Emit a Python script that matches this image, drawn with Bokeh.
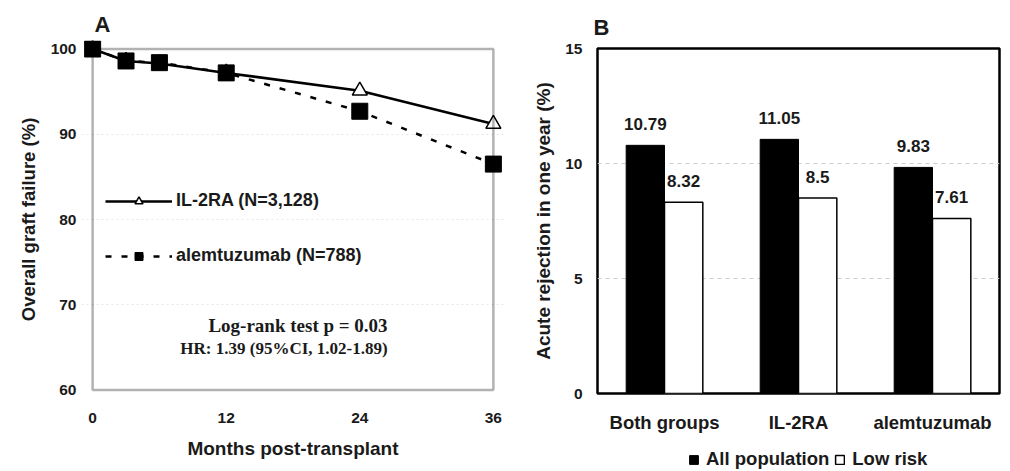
from bokeh.plotting import figure
from bokeh.layouts import row, column
from bokeh.models import (ColumnDataSource, FixedTicker, BoxAnnotation, Legend, LegendItem,
                          FactorRange, Range1d)
from bokeh.transform import dodge
from bokeh.core.properties import value
from bokeh.embed import file_html
from bokeh.resources import INLINE

# ---------------- data ----------------
months = [0, 3, 6, 12, 24, 36]
il2ra = [100, 98.6, 98.3, 97.2, 95.1, 91.2]
alemtuzumab = [100, 98.6, 98.4, 97.2, 92.7, 86.5]
series_a = ["IL-2RA (N=3,128)", "alemtuzumab (N=788)"]
stats_text = ["Log-rank test p = 0.03", "HR: 1.39 (95%CI, 1.02-1.89)"]
x_ticks_a = [0, 12, 24, 36]
y_ticks_a = [60, 70, 80, 90, 100]

groups = ["Both groups", "IL-2RA", "alemtuzumab"]
all_population = [10.79, 11.05, 9.83]
low_risk = [8.32, 8.5, 7.61]
series_b = ["All population", "Low risk"]
y_ticks_b = [0, 5, 10, 15]

FONT = "Liberation Sans"
SERIF = "Liberation Serif"
TXT = "#1a1a1a"


def style_axis(ax, tick_size, label_size):
    ax.axis_line_color = None
    ax.major_tick_line_color = None
    ax.minor_tick_line_color = None
    ax.major_tick_out = 0
    ax.major_tick_in = 0
    ax.minor_tick_out = 0
    ax.minor_tick_in = 0
    ax.major_label_text_font = FONT
    ax.major_label_text_font_style = "bold"
    ax.major_label_text_font_size = tick_size
    ax.major_label_text_color = TXT
    ax.axis_label_text_font = FONT
    ax.axis_label_text_font_style = "bold"
    ax.axis_label_text_font_size = label_size
    ax.axis_label_text_color = TXT


def style_title(p, text, offset, standoff):
    p.title.text = text
    p.title.text_font = FONT
    p.title.text_font_size = "22px"
    p.title.text_font_style = "bold"
    p.title.text_color = TXT
    p.title.align = "left"
    p.title.offset = offset
    p.title.standoff = standoff


# ---------------- panel A ----------------
pA = figure(width=520, height=470, output_backend="svg", toolbar_location=None,
            x_range=Range1d(-1, 37), y_range=Range1d(59, 101),
            min_border_left=81, min_border_right=16, min_border_top=40, min_border_bottom=72)
pA.outline_line_color = None
pA.xgrid.grid_line_color = None
pA.ygrid.grid_line_color = "#e6e6e6"
pA.ygrid.grid_line_dash = "2 3"
pA.ygrid.ticker = FixedTicker(ticks=[70, 80, 90])

box = BoxAnnotation(left=0, right=36, bottom=60, top=100, fill_alpha=0,
                    line_color="black", line_width=2.5)
pA.add_layout(box)

srcA = ColumnDataSource(dict(m=months, il=il2ra, al=alemtuzumab))
l1 = pA.line("m", "il", source=srcA, line_color="black", line_width=2.5)
s1 = pA.scatter("m", "il", source=srcA, marker="triangle", size=15, fill_color="white",
                line_color="black", line_width=1.5)
l2 = pA.line("m", "al", source=srcA, line_color="black", line_width=2.5, line_dash="6 10")
s2 = pA.scatter("m", "al", source=srcA, marker="square", size=16, fill_color="black",
                line_color="black")

legA = Legend(items=[LegendItem(label=series_a[0], renderers=[l1, s1]),
                     LegendItem(label=series_a[1], renderers=[l2, s2])],
              location=(24, 132), orientation="vertical", spacing=34,
              glyph_width=67, glyph_height=20, label_standoff=4, padding=0, margin=0,
              background_fill_alpha=0, border_line_color=None,
              label_text_font=FONT, label_text_font_style="bold",
              label_text_font_size="18px", label_text_color=TXT)
pA.add_layout(legA, "center")

statsrc = ColumnDataSource(dict(x=[26.5, 26.5], y=[67.55, 64.85], t=stats_text,
                                fs=["19px", "17px"]))
pA.text("x", "y", text="t", source=statsrc, text_font=value(SERIF), text_font_style="bold",
        text_font_size="fs", text_align="right", text_baseline="middle", text_color=TXT)

pA.xaxis.ticker = FixedTicker(ticks=x_ticks_a)
pA.yaxis.ticker = FixedTicker(ticks=y_ticks_a)
pA.xaxis.axis_label = "Months post-transplant"
pA.yaxis.axis_label = "Overall graft failure (%)"
style_axis(pA.xaxis[0], "15.5px", "19px")
style_axis(pA.yaxis[0], "15.5px", "18.5px")
pA.xaxis.major_label_standoff = 14
pA.yaxis.major_label_standoff = 5
pA.xaxis.axis_label_standoff = 12
pA.yaxis.axis_label_standoff = 9
style_title(pA, "A", 13, 8)

# ---------------- panel B ----------------
pB = figure(width=482, height=440, output_backend="svg", toolbar_location=None,
            x_range=FactorRange(*groups, range_padding=0), y_range=Range1d(0, 15),
            min_border_left=77, min_border_right=3, min_border_top=48, min_border_bottom=47)
pB.outline_line_color = "black"
pB.outline_line_width = 2.5
pB.xgrid.grid_line_color = None
pB.ygrid.grid_line_color = "#cccccc"
pB.ygrid.grid_line_dash = "4 4"
pB.ygrid.ticker = FixedTicker(ticks=[5, 10])

srcB = ColumnDataSource(dict(g=groups, a=all_population, r=low_risk,
                             at=[str(v) for v in all_population],
                             rt=[str(v) for v in low_risk]))
bar_all = dict(fill_color="black", line_color="black")
bar_low = dict(fill_color="white", line_color="black", line_width=1.5)
pB.vbar(x=dodge("g", -0.143, range=pB.x_range), top="a", width=0.286, source=srcB, **bar_all)
pB.vbar(x=dodge("g", 0.143, range=pB.x_range), top="r", width=0.286, source=srcB, **bar_low)
pB.text(x=dodge("g", -0.143, range=pB.x_range), y="a", text="at", source=srcB,
        text_font=value(FONT), text_font_style="bold", text_font_size="17px",
        text_align="center", text_baseline="middle", y_offset=-21, text_color=TXT)
pB.text(x=dodge("g", 0.143, range=pB.x_range), y="r", text="rt", source=srcB,
        text_font=value(FONT), text_font_style="bold", text_font_size="17px",
        text_align="center", text_baseline="middle", y_offset=-21, text_color=TXT)

pB.yaxis.ticker = FixedTicker(ticks=y_ticks_b)
pB.yaxis.axis_label = "Acute rejection in one year (%)"
style_axis(pB.xaxis[0], "18.5px", "19px")
style_axis(pB.yaxis[0], "15.5px", "19px")
pB.xaxis.major_label_standoff = 18
pB.yaxis.major_label_standoff = 15
pB.yaxis.axis_label_standoff = 8
style_title(pB, "B", -4, 17)

# legend strip under panel B (hidden copies of the bars serve as legend proxies)
pL = figure(width=482, height=30, output_backend="svg", toolbar_location=None,
            x_range=FactorRange(*groups, range_padding=0), y_range=Range1d(-200, -199),
            x_axis_location=None, y_axis_location=None,
            min_border_left=0, min_border_right=0, min_border_top=0, min_border_bottom=0)
pL.outline_line_color = None
pL.grid.visible = False
r_all = pL.vbar(x=dodge("g", -0.143, range=pL.x_range), top="a", width=0.286,
                source=srcB, visible=False, **bar_all)
r_low = pL.vbar(x=dodge("g", 0.143, range=pL.x_range), top="r", width=0.286,
                source=srcB, visible=False, **bar_low)
legB = Legend(items=[LegendItem(label=series_b[0], renderers=[r_all]),
                     LegendItem(label=series_b[1], renderers=[r_low])],
              location=(91, 0), orientation="horizontal", spacing=5,
              glyph_width=11, glyph_height=11, label_standoff=7, padding=0, margin=0,
              background_fill_alpha=0, border_line_color=None,
              inactive_fill_alpha=0,
              label_text_font=FONT, label_text_font_style="bold",
              label_text_font_size="18.5px", label_text_color=TXT)
pL.add_layout(legB, "center")

layout = row(pA, column(pB, pL))
open("out.html", "w").write(file_html(layout, INLINE))
